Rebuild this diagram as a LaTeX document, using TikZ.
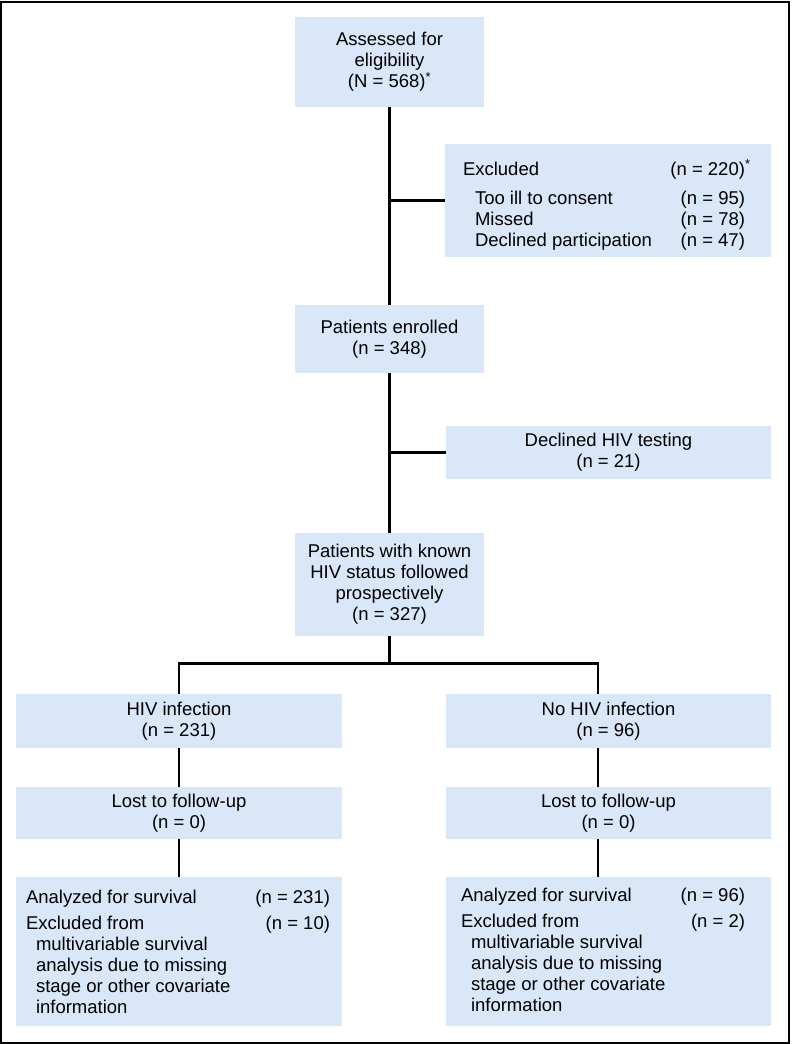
\documentclass[tikz,border=0pt]{standalone}
\usepackage{fontspec}
\setmainfont{Liberation Sans}
\usetikzlibrary{positioning}
\definecolor{boxblue}{RGB}{218,231,249}

\begin{document}
\begin{tikzpicture}[x=1pt,y=-1pt,
    font=\fontsize{18.5}{21}\selectfont,
    box/.style={fill=boxblue, inner sep=0pt, align=center},
    listtext/.style={inner sep=0pt, anchor=north west},
    line/.style={line width=2.7pt}]

\useasboundingbox (0,0) rectangle (792,1044);
\draw [line width=1.4pt] (1,2) rectangle (789,1043);

% middle column
\node[box, minimum width=189pt, minimum height=90pt] (assess) at (389.5,62) {Assessed for\\eligibility\\(N = 568)\textsuperscript{*}};
\node[box, minimum width=326pt, minimum height=113pt] (excl) at (608,200.5) {};
\node[listtext, below right=16pt and 18pt of excl.north west] (excllist) {%
  \begin{tabular*}{282pt}{@{}l@{\extracolsep{\fill}}r@{}}
  Excluded & (n = 220)\rlap{\textsuperscript{*}}\\[8pt]
  \hspace{12pt}Too ill to consent & (n = 95)\\
  \hspace{12pt}Missed & (n = 78)\\
  \hspace{12pt}Declined participation & (n = 47)
  \end{tabular*}};
\node[box, minimum width=189pt, minimum height=68pt] (enrol) at (389.5,339) {Patients enrolled\\(n = 348)};
\node[box, minimum width=325pt, minimum height=53pt] (decl) at (608.5,452.5) {Declined HIV testing\\(n = 21)};
\node[box, minimum width=189pt, minimum height=103pt] (known) at (389.5,584.5) {Patients with known\\HIV status followed\\prospectively\\(n = 327)};

% two arms
\node[box, minimum width=326pt, minimum height=54pt] (hiv) at (179,721) {HIV infection\\(n = 231)};
\node[box, minimum width=325pt, minimum height=54pt] (nohiv) at (608.5,721) {No HIV infection\\(n = 96)};
\node[box, minimum width=326pt, minimum height=52pt] (lostL) at (179,813) {Lost to follow-up\\(n = 0)};
\node[box, minimum width=325pt, minimum height=52pt] (lostR) at (608.5,813) {Lost to follow-up\\(n = 0)};
\node[box, minimum width=326pt, minimum height=149pt] (anaL) at (179,951.5) {};
\node[box, minimum width=325pt, minimum height=149pt] (anaR) at (608.5,951.5) {};

\node[listtext, below right=12pt and 10pt of anaL.north west] (analistL) {%
  \begin{tabular*}{304pt}{@{}l@{\extracolsep{\fill}}r@{}}
  Analyzed for survival & (n = 231)\\[5pt]
  Excluded from & (n = 10)\\
  \hspace{10pt}multivariable survival & \\
  \hspace{10pt}analysis due to missing & \\
  \hspace{10pt}stage or other covariate & \\
  \hspace{10pt}information &
  \end{tabular*}};
\node[listtext, below right=10pt and 15pt of anaR.north west] (analistR) {%
  \begin{tabular*}{284pt}{@{}l@{\extracolsep{\fill}}r@{}}
  Analyzed for survival & (n = 96)\\[5pt]
  Excluded from & (n = 2)\\
  \hspace{10pt}multivariable survival & \\
  \hspace{10pt}analysis due to missing & \\
  \hspace{10pt}stage or other covariate & \\
  \hspace{10pt}information &
  \end{tabular*}};

% connectors
\coordinate (exclbranch) at (assess.south |- excl.west);
\coordinate (declbranch) at (enrol.south |- decl.west);
\coordinate (split) at (389.5,663.5);
\coordinate (splitL) at (hiv.north |- split);
\coordinate (splitR) at (598,663.5);

\draw [line] (assess) -- (enrol);
\draw [line] (exclbranch) -- (excl.west);
\draw [line] (enrol) -- (known);
\draw [line] (declbranch) -- (decl.west);
\draw [line] (known) -- (split);
\draw [line] (hiv.north) -- (splitL) -- (splitR) -- (splitR |- nohiv.north);
\draw [line] (hiv) -- (lostL);
\draw [line] (lostL) -- (anaL);
\draw [line] (splitR |- nohiv.south) -- (splitR |- lostR.north);
\draw [line] (splitR |- lostR.south) -- (splitR |- anaR.north);

\end{tikzpicture}
\end{document}
